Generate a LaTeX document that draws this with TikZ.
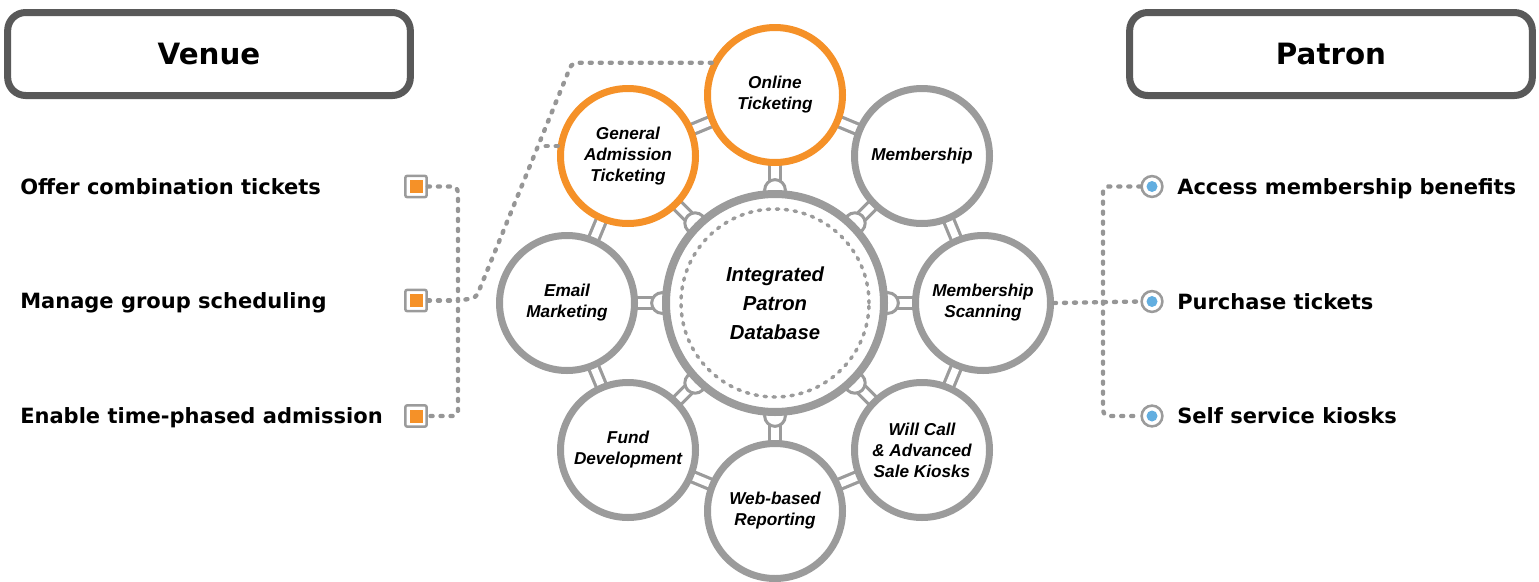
\documentclass[tikz,border=0pt]{standalone}
\usepackage{fontspec}
\usetikzlibrary{calc,backgrounds}
\newfontfamily\dejavu{DejaVu Sans}
\newfontfamily\libsans{Liberation Sans}
\definecolor{ringgray}{RGB}{155,155,155}
\definecolor{dotgray}{RGB}{150,150,150}
\definecolor{orng}{RGB}{245,145,40}
\definecolor{hdrgray}{RGB}{89,89,89}
\definecolor{bluedot}{RGB}{98,174,224}
\begin{document}
\begin{tikzpicture}[x=0.75pt,y=-0.75pt,
 sat/.style={circle, draw=ringgray, fill=white, line width=5.25pt, minimum size=101.25pt, inner sep=0pt, align=center, font=\libsans\bfseries\itshape\fontsize{12.9pt}{15.75pt}\selectfont},
 hot/.style={sat, draw=orng},
 hub/.style={circle, draw=ringgray, fill=white, line width=6pt, minimum size=163.5pt, inner sep=0pt, align=center, font=\libsans\bfseries\itshape\fontsize{15.2pt}{21.75pt}\selectfont},
 rail/.style={draw=ringgray, line width=2.4pt, double=white, double distance=5.4pt},
 bump/.style={circle, draw=ringgray, fill=white, line width=2.25pt, minimum size=15.5pt, inner sep=0pt},
 innerdots/.style={draw=ringgray, line width=2.6pt, line cap=round, dash pattern=on 1.8pt off 4.95pt},
 dots/.style={draw=dotgray, line width=3.3pt, line cap=round, dash pattern=on 1.5pt off 6pt, rounded corners=4pt},
 hdr/.style={draw=hdrgray, fill=white, line width=5.25pt, rounded corners=13.5pt, minimum width=302pt, minimum height=62.25pt, inner sep=0pt, font=\dejavu\bfseries\fontsize{22pt}{26pt}\selectfont},
 lbl/.style={anchor=base west, inner sep=0pt, font=\dejavu\bfseries\fontsize{15.75pt}{19pt}\selectfont},
 sqbox/.style={rectangle, draw=ringgray, fill=white, line width=1.9pt, rounded corners=1.5pt, minimum size=16pt, inner sep=0pt},
 sqdot/.style={rectangle, fill=orng, minimum size=9.75pt, inner sep=0pt},
 ringmark/.style={circle, draw=ringgray, fill=white, line width=1.9pt, minimum size=15.6pt, inner sep=0pt},
 bdot/.style={circle, fill=bluedot, minimum size=8.25pt, inner sep=0pt},
]
\useasboundingbox (0,0) rectangle (1539,582);
\coordinate (C) at (775,303);

% headers
\node[hdr] (venue) at (209,54) {Venue};
\node[hdr] (patron) at (1331,54) {Patron};

% satellites
\node[hot] (OT) at (775,95) {Online\\Ticketing};
\node[sat] (MEM) at (922,156) {Membership};
\node[sat] (MS) at (983,303) {Membership\\Scanning};
\node[sat] (WC) at (922,450) {Will Call\\\& Advanced\\Sale Kiosks};
\node[sat] (WR) at (775,511) {Web-based\\Reporting};
\node[sat] (FD) at (628,450) {Fund\\Development};
\node[sat] (EM) at (567,303) {Email\\Marketing};
\node[hot] (GA) at (628,156) {General\\Admission\\Ticketing};

% bumps on the hub ring
\foreach \s in {OT,MEM,MS,WC,WR,FD,EM,GA}{
  \node[bump] (b\s) at ($(C)!0.5433!(\s)$) {};
}

% hub
\node[hub] (hub) at (C) {Integrated\\Patron\\Database};
\node[circle, innerdots, minimum size=141pt, inner sep=0pt] (hubin) at (C) {};

% rails and struts
\begin{pgfonlayer}{background}
\foreach \a/\b in {OT/MEM,MEM/MS,MS/WC,WC/WR,WR/FD,FD/EM,EM/GA,GA/OT}{
  \draw[rail] (\a.center) -- (\b.center);
}
\foreach \s in {OT,MEM,MS,WC,WR,FD,EM,GA}{
  \draw[rail] (\s.center) -- (hub.center);
}
\end{pgfonlayer}

% left markers and labels
\node[sqbox] (m1) at (416,186.5) {};
\node[sqbox] (m2) at (416,300.5) {};
\node[sqbox] (m3) at (416,416) {};
\node[sqdot] (m1i) at (m1) {};
\node[sqdot] (m2i) at (m2) {};
\node[sqdot] (m3i) at (m3) {};
\node[lbl] (l1) at (20,194) {Offer combination tickets};
\node[lbl] (l2) at (20,308) {Manage group scheduling};
\node[lbl] (l3) at (20,423.5) {Enable time-phased admission};

% right markers and labels
\node[ringmark] (p1) at (1152,186.5) {};
\node[ringmark] (p2) at (1152,301.5) {};
\node[ringmark] (p3) at (1152,416) {};
\node[bdot] (p1i) at (p1) {};
\node[bdot] (p2i) at (p2) {};
\node[bdot] (p3i) at (p3) {};
\node[lbl] (r1) at (1177,194) {Access membership benefits};
\node[lbl] (r2) at (1177,309) {Purchase tickets};
\node[lbl] (r3) at (1177,423.5) {Self service kiosks};

% dotted connectors left
\coordinate (jl) at (458,300.5);
\coordinate (k1) at (572,63);
\coordinate (k2) at (476,298);
\coordinate (g) at (538,146);
\draw[dots] (m1.east) -| (jl) |- (m3.east);
\draw[dots] (m2.east) -- (jl);
\draw[dots] (OT.153) -- (OT.153 -| k1) -- (k2) -- (jl);
\draw[dots] (GA.172) -- (GA.172 -| g);

% dotted connectors right
\coordinate (jr) at (1103,302);
\draw[dots] (p1.west) -| (jr) |- (p3.west);
\draw[dots] (MS.east) -- (p2.west);
\end{tikzpicture}
\end{document}
